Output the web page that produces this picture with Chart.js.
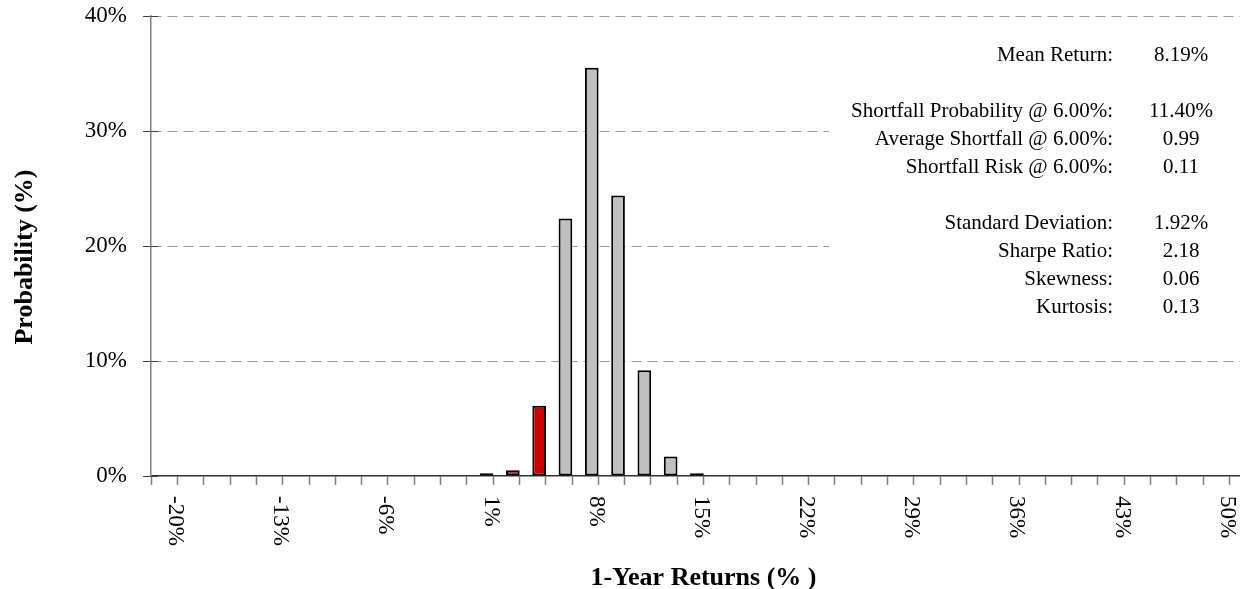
<!DOCTYPE html>
<html>
<head>
<meta charset="utf-8">
<script src="https://cdn.jsdelivr.net/npm/chart.js@4.4.1/dist/chart.umd.min.js"></script>
<style>
html,body{margin:0;padding:0;background:#fff;overflow:hidden;width:1240px;height:589px}
#wrap{position:relative;width:1260px;height:589px}
canvas{display:block}
</style>
</head>
<body>
<div id="wrap"><canvas id="c" width="1260" height="589"></canvas></div>
<script>
// ---- Data ----
const returnBins = [-20, -18.25, -16.5, -14.75, -13, -11.25, -9.5, -7.75, -6, -4.25,
  -2.5, -0.75, 1, 2.75, 4.5, 6.25, 8, 9.75, 11.5, 13.25,
  15, 16.75, 18.5, 20.25, 22, 23.75, 25.5, 27.25, 29, 30.75,
  32.5, 34.25, 36, 37.75, 39.5, 41.25, 43, 44.75, 46.5, 48.25, 50];
const probabilities = [0, 0, 0, 0, 0, 0, 0, 0, 0, 0,
  0, 0, 0.25, 0.5, 6.1, 22.4, 35.5, 24.4, 9.2, 1.7,
  0.25, 0, 0, 0, 0, 0, 0, 0, 0, 0,
  0, 0, 0, 0, 0, 0, 0, 0, 0, 0, 0];
const shortfallTarget = 6.00;
const xTickValues = [-20, -13, -6, 1, 8, 15, 22, 29, 36, 43, 50];
const xTickLabels = ['-20%', '-13%', '-6%', '1%', '8%', '15%', '22%', '29%', '36%', '43%', '50%'];
const yTickValues = [0, 10, 20, 30, 40];
const yTickLabels = ['0%', '10%', '20%', '30%', '40%'];
const statLabels = ['Mean Return:', '', 'Shortfall Probability @ 6.00%:', 'Average Shortfall @ 6.00%:',
  'Shortfall Risk @ 6.00%:', '', 'Standard Deviation:', 'Sharpe Ratio:', 'Skewness:', 'Kurtosis:'];
const statValues = ['8.19%', '', '11.40%', '0.99', '0.11', '', '1.92%', '2.18', '0.06', '0.13'];
const xTitle = '1-Year Returns (% )';
const yTitle = 'Probability (%)';

// ---- Styles ----
const FONT = '"Liberation Serif", "Times New Roman", serif';
const RED = '#d00000';
const GRAY = '#c0c0c0';
const BIN_STEP = 1.75;
const X_MIN = -20 - BIN_STEP / 4;
const X_MAX = X_MIN + BIN_STEP * 41;

function zeroPadding(s) { s.paddingLeft = 0; s.paddingRight = 0; s.paddingTop = 0; s.paddingBottom = 0; }

const overlayPlugin = {
  id: 'overlay',
  afterDraw(chart) {
    const ctx = chart.ctx;
    const xs = chart.scales.x;
    const ys = chart.scales.y;
    const area = chart.chartArea;
    ctx.save();
    // inner half of the y-axis cross tick marks
    ctx.strokeStyle = '#404040';
    ctx.lineWidth = 1;
    yTickValues.forEach(v => {
      const py = Math.round(ys.getPixelForValue(v)) + 0.5;
      ctx.beginPath();
      ctx.moveTo(area.left, py);
      ctx.lineTo(area.left + 7, py);
      ctx.stroke();
    });
    ctx.fillStyle = '#000';
    // rotated x tick labels (reading top to bottom)
    ctx.font = '23px ' + FONT;
    ctx.textAlign = 'left';
    ctx.textBaseline = 'middle';
    xTickValues.forEach((v, i) => {
      const px = xs.getPixelForValue(v) + 4;
      ctx.save();
      ctx.translate(px, area.bottom + 20);
      ctx.rotate(Math.PI / 2);
      ctx.fillText(xTickLabels[i], 0, 0);
      ctx.restore();
    });
    // y axis title
    ctx.save();
    ctx.font = 'bold 26px ' + FONT;
    ctx.textAlign = 'center';
    ctx.textBaseline = 'middle';
    ctx.translate(25, 257);
    ctx.rotate(-Math.PI / 2);
    ctx.fillText(yTitle, 0, 0);
    ctx.restore();
    // statistics panel
    ctx.fillStyle = '#fff';
    ctx.fillRect(829, 30, 440, 300);
    ctx.fillStyle = '#000';
    ctx.font = '21px ' + FONT;
    ctx.textBaseline = 'middle';
    statLabels.forEach((lab, i) => {
      const y = 55 + i * 28.1;
      if (lab) { ctx.textAlign = 'right'; ctx.fillText(lab, 1113, y); }
      if (statValues[i]) { ctx.textAlign = 'center'; ctx.fillText(statValues[i], 1181, y); }
    });
    ctx.restore();
  }
};

new Chart(document.getElementById('c'), {
  type: 'bar',
  data: {
    datasets: [{
      label: 'Probability',
      data: returnBins.map((b, i) => ({ x: b, y: probabilities[i] })),
      backgroundColor: c => returnBins[c.dataIndex] < shortfallTarget ? RED : GRAY,
      borderColor: '#000',
      borderWidth: 2,
      borderSkipped: false,
      categoryPercentage: 1,
      barPercentage: 0.52
    }]
  },
  options: {
    responsive: false,
    animation: false,
    events: [],
    layout: { padding: { top: 16, right: 4, left: 0, bottom: 0 } },
    plugins: { legend: { display: false }, tooltip: { enabled: false } },
    scales: {
      x: {
        type: 'linear',
        min: X_MIN,
        max: X_MAX,
        afterBuildTicks: s => { s.ticks = returnBins.map(b => ({ value: b - BIN_STEP / 4 })); },
        ticks: { display: false },
        grid: { drawOnChartArea: false, drawTicks: true, tickLength: 9, tickColor: '#808080', color: '#808080', tickWidth: 1.5 },
        border: { color: '#303030', width: 1.5 },
        title: { display: true, text: xTitle, color: '#000',
          font: { family: FONT, size: 26, weight: 'bold', lineHeight: 1 }, padding: { top: 0, bottom: -2 } },
        afterFit: s => { s.height = 113; zeroPadding(s); }
      },
      y: {
        min: 0,
        max: 40,
        afterBuildTicks: s => { s.ticks = yTickValues.map(v => ({ value: v })); },
        ticks: { callback: (v, i) => yTickLabels[i], color: '#000',
          font: { family: FONT, size: 23 }, padding: 16 },
        grid: { color: c => (c.tick && c.tick.value === 0) ? 'rgba(0,0,0,0)' : '#999999', lineWidth: 1,
          tickColor: '#404040', tickLength: 8 },
        border: { color: '#808080', width: 1.5, dash: [10, 6] },
        title: { display: false },
        afterFit: s => { s.width = 151; zeroPadding(s); }
      }
    }
  },
  plugins: [overlayPlugin]
});
</script>
</body>
</html>
